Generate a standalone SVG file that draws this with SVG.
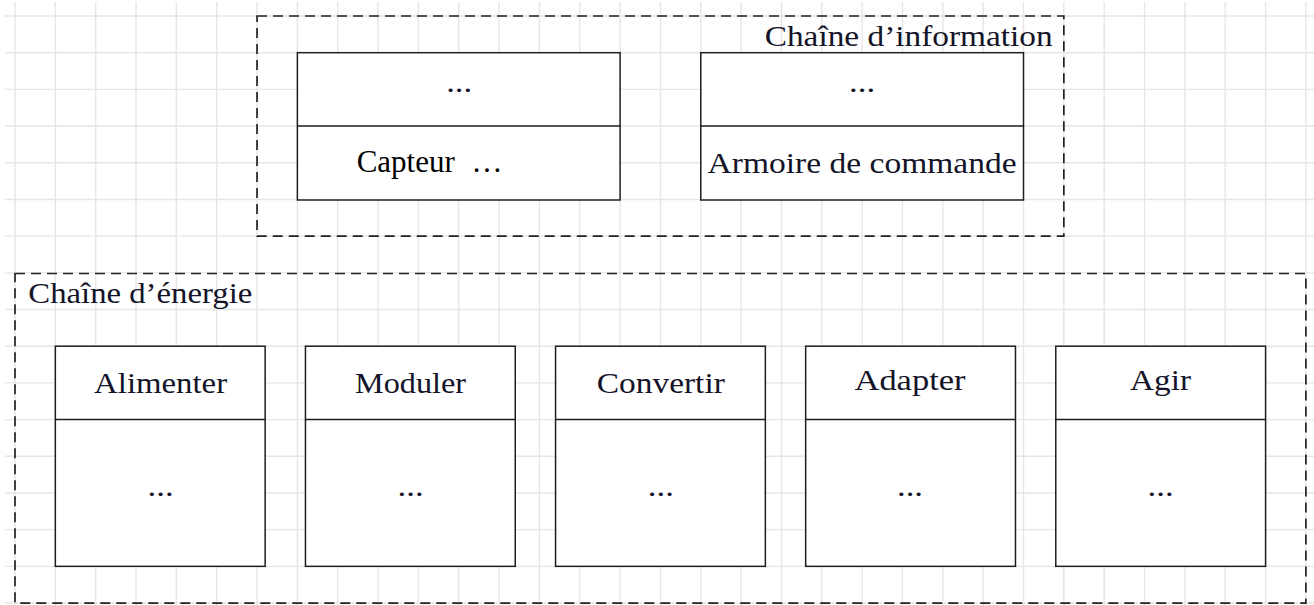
<svg xmlns="http://www.w3.org/2000/svg" width="1314" height="605" viewBox="0 0 1314 605">
<style>
.grid{stroke:#e6e6e6;stroke-width:1.4;fill:none}
.frame{fill:none;stroke:#222;stroke-width:1.7;stroke-dasharray:10 6}
.box{fill:#fff;stroke:#1e1e1e;stroke-width:1.5}
.div{stroke:#1e1e1e;stroke-width:1.5}
.cm{font-family:"Liberation Serif","DejaVu Serif",serif;font-size:30px;fill:#141428}
.tm{font-family:"Liberation Serif","Times New Roman",serif;font-size:31px;fill:#000}
.c{text-anchor:middle}
</style>
<rect width="1314" height="605" fill="#fff"/>
<g id="grid">
<path class="grid" d="M15 2V605M55.34 2V605M95.68 2V605M136.02 2V605M176.36 2V605M216.7 2V605M257.04 2V605M297.38 2V605M337.72 2V605M378.06 2V605M418.4 2V605M458.74 2V605M499.08 2V605M539.42 2V605M579.76 2V605M620.1 2V605M660.44 2V605M700.78 2V605M741.12 2V605M781.46 2V605M821.8 2V605M862.14 2V605M902.48 2V605M942.82 2V605M983.16 2V605M1023.5 2V605M1063.84 2V605M1104.18 2V605M1144.52 2V605M1184.86 2V605M1225.2 2V605M1265.54 2V605M1305.88 2V605"/>
<path class="grid" d="M5 16H1314M5 52.69H1314M5 89.38H1314M5 126.07H1314M5 162.76H1314M5 199.45H1314M5 236.14H1314M5 272.83H1314M5 309.52H1314M5 346.21H1314M5 382.9H1314M5 419.59H1314M5 456.28H1314M5 492.97H1314M5 529.66H1314M5 566.35H1314M5 603.04H1314"/>
</g>
<g id="chaine-information">
<rect class="frame" x="257.04" y="16" width="806.8" height="220.14"/>
<text class="cm" x="1052.7" y="46" text-anchor="end" textLength="288" lengthAdjust="spacingAndGlyphs">Chaîne d’information</text>
</g>
<g id="chaine-energie">
<rect class="frame" x="15" y="273.5" width="1290.88" height="329.54"/>
<text class="cm" x="28.3" y="303.3" textLength="224" lengthAdjust="spacingAndGlyphs">Chaîne d’énergie</text>
</g>
<g id="capteur">
<rect class="box" x="297.38" y="52.69" width="322.72" height="147.3"/>
<line class="div" x1="297.38" y1="126.07" x2="620.1" y2="126.07"/>
<text class="cm c" x="459.2" y="92" textLength="26" lengthAdjust="spacingAndGlyphs">...</text>
<text class="tm" x="356.7" y="171.7">Capteur<tspan dx="9"> …</tspan></text>
</g>
<g id="armoire">
<rect class="box" x="700.78" y="52.69" width="322.72" height="147.3"/>
<line class="div" x1="700.78" y1="126.07" x2="1023.5" y2="126.07"/>
<text class="cm c" x="862.1" y="92" textLength="26" lengthAdjust="spacingAndGlyphs">...</text>
<text class="cm c" x="862.1" y="173.3" textLength="309" lengthAdjust="spacingAndGlyphs">Armoire de commande</text>
</g>
<g id="alimenter">
<rect class="box" x="55.34" y="346.21" width="209.8" height="220.14"/>
<line class="div" x1="55.34" y1="419.59" x2="265.14" y2="419.59"/>
<text class="cm c" x="160.6" y="393.3" textLength="133" lengthAdjust="spacingAndGlyphs">Alimenter</text>
<text class="cm c" x="160.6" y="496" textLength="26" lengthAdjust="spacingAndGlyphs">...</text>
</g>
<g id="moduler">
<rect class="box" x="305.45" y="346.21" width="209.8" height="220.14"/>
<line class="div" x1="305.45" y1="419.59" x2="515.25" y2="419.59"/>
<text class="cm c" x="410.6" y="393.3" textLength="111" lengthAdjust="spacingAndGlyphs">Moduler</text>
<text class="cm c" x="410.6" y="496" textLength="26" lengthAdjust="spacingAndGlyphs">...</text>
</g>
<g id="convertir">
<rect class="box" x="555.56" y="346.21" width="209.8" height="220.14"/>
<line class="div" x1="555.56" y1="419.59" x2="765.36" y2="419.59"/>
<text class="cm c" x="660.8" y="393.3" textLength="128" lengthAdjust="spacingAndGlyphs">Convertir</text>
<text class="cm c" x="660.8" y="496" textLength="26" lengthAdjust="spacingAndGlyphs">...</text>
</g>
<g id="adapter">
<rect class="box" x="805.67" y="346.21" width="209.8" height="220.14"/>
<line class="div" x1="805.67" y1="419.59" x2="1015.47" y2="419.59"/>
<text class="cm c" x="910" y="390" textLength="111" lengthAdjust="spacingAndGlyphs">Adapter</text>
<text class="cm c" x="910" y="496" textLength="26" lengthAdjust="spacingAndGlyphs">...</text>
</g>
<g id="agir">
<rect class="box" x="1055.78" y="346.21" width="209.8" height="220.14"/>
<line class="div" x1="1055.78" y1="419.59" x2="1265.58" y2="419.59"/>
<text class="cm c" x="1160.6" y="389.5" textLength="61" lengthAdjust="spacingAndGlyphs">Agir</text>
<text class="cm c" x="1160.6" y="496" textLength="26" lengthAdjust="spacingAndGlyphs">...</text>
</g>
<g id="connectors"/>
</svg>
